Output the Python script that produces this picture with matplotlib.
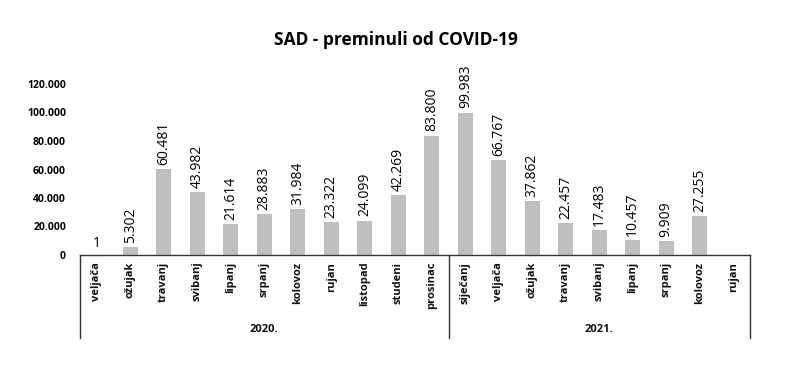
import matplotlib
matplotlib.use("Agg")
import matplotlib.pyplot as plt
import matplotlib.transforms as mtransforms
from matplotlib.ticker import FuncFormatter

months = ["veljača", "ožujak", "travanj", "svibanj", "lipanj", "srpanj", "kolovoz",
          "rujan", "listopad", "studeni", "prosinac",
          "siječanj", "veljača", "ožujak", "travanj", "svibanj", "lipanj", "srpanj",
          "kolovoz", "rujan"]
deaths = [1, 5302, 60481, 43982, 21614, 28883, 31984, 23322, 24099, 42269, 83800,
          99983, 66767, 37862, 22457, 17483, 10457, 9909, 27255, None]
years = ["2020.", "2021."]
year_counts = [11, 9]
title = "SAD - preminuli od COVID-19"

plt.rcParams['font.family'] = ['Open Sans', 'DejaVu Sans']

def fmt(v):
    return f"{int(v):,}".replace(",", ".")

fig = plt.figure(figsize=(7.91, 3.67), dpi=100)
ax = fig.add_axes([80/791, 1-255/367, (750-80)/791, (255-84)/367])

xs = list(range(len(months)))
vals = [v if v is not None else 0 for v in deaths]
ax.bar(xs, vals, width=0.45, color="#bfbfbf", zorder=2)
for x, v in zip(xs, deaths):
    if v is None:
        continue
    ax.annotate(fmt(v), (x, v), xytext=(0, 3), textcoords="offset points",
                rotation=90 if v > 1 else 0, ha="center", va="bottom",
                fontsize=10, color="#000000")

ax.set_xlim(-0.5, len(months) - 0.5)
ax.set_ylim(0, 120000)
ax.set_yticks(range(0, 120001, 20000))
ax.yaxis.set_major_formatter(FuncFormatter(lambda v, p: fmt(v)))
for lab in ax.get_yticklabels():
    lab.set_fontweight("bold")
    lab.set_fontsize(7.5)
ax.tick_params(axis="y", length=0, pad=10)
ax.tick_params(axis="x", length=0)
ax.set_xticks([])
for s in ["top", "right", "left"]:
    ax.spines[s].set_visible(False)
ax.spines["bottom"].set_color("#333333")
ax.spines["bottom"].set_linewidth(1)

trans = mtransforms.blended_transform_factory(ax.transData, ax.transAxes)
ybot = -(338-255)/171
for x, m in zip(xs, months):
    ax.text(x, -0.04, m, transform=trans, rotation=90, ha="center", va="top",
            fontsize=8, fontweight="bold", color="#111111")

# group separators
start = -0.5
bounds = [start]
for c in year_counts:
    start += c
    bounds.append(start)
for b in bounds:
    ax.plot([b, b], [0, ybot], transform=trans, color="#333333", lw=1, clip_on=False)
for i, y in enumerate(years):
    mid = (bounds[i] + bounds[i+1]) / 2
    ax.text(mid, -(330-255)/171, y, transform=trans, ha="center", va="center",
            fontsize=8, fontweight="bold", color="#111111")

fig.text(0.5, 1-40/367, title, ha="center", va="center", fontsize=12.5, fontweight="bold")

fig.savefig("out.png", dpi=100, facecolor="white")
